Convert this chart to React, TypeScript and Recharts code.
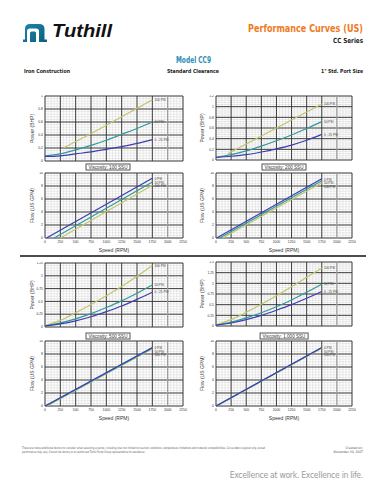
import React from 'react'
import {
  LineChart,
  Line,
  XAxis,
  YAxis,
  CartesianGrid,
  ReferenceLine,
  ReferenceDot,
} from 'recharts'

const FONT = '"Liberation Sans", Arial, sans-serif'
const NARROW = '"Liberation Sans Narrow", "DejaVu Sans Condensed", "Liberation Sans", sans-serif'

const OLIVE = '#c4c46c'
const TEAL = '#2f9a9a'
const BLUE = '#3d3db0'

// speed axis
const SPEED_TICKS = [0, 250, 500, 750, 1000, 1250, 1500, 1750, 2000, 2250]
const SPEED_MAX = 2250
const MAX_SPEED_MARK = 2000

// power curve speeds
const powerSpeeds = [0, 250, 500, 750, 1000, 1250, 1500, 1750]

// 100 SSU power (BHP)
const p100Low = [0.07, 0.08, 0.11, 0.14, 0.18, 0.22, 0.27, 0.33]
const p100Mid = [0.08, 0.11, 0.17, 0.24, 0.32, 0.41, 0.5, 0.6]
const p100HighSpeeds = [300, 500, 750, 1000, 1250, 1500, 1750]
const p100High = [0.2, 0.3, 0.42, 0.55, 0.68, 0.81, 0.94]

// 200 SSU power
const p200Low = [0.05, 0.07, 0.1, 0.15, 0.21, 0.28, 0.37, 0.48]
const p200Mid = [0.05, 0.1, 0.17, 0.26, 0.36, 0.47, 0.59, 0.72]
const p200HighSpeeds = [200, 500, 750, 1000, 1250, 1500, 1750]
const p200High = [0.12, 0.3, 0.45, 0.6, 0.75, 0.9, 1.05]

// 500 SSU power
const p500Low = [0.02, 0.06, 0.12, 0.2, 0.3, 0.41, 0.54, 0.68]
const p500Mid = [0.02, 0.08, 0.16, 0.26, 0.38, 0.51, 0.66, 0.82]
const p500High = [0.03, 0.13, 0.28, 0.44, 0.61, 0.79, 0.99, 1.2]

// 1000 SSU power
const p1000Low = [0.02, 0.07, 0.15, 0.25, 0.37, 0.5, 0.65, 0.81]
const p1000Mid = [0.02, 0.09, 0.19, 0.31, 0.45, 0.61, 0.79, 0.98]
const p1000High = [0.03, 0.15, 0.32, 0.51, 0.71, 0.92, 1.14, 1.36]

// flow (US GPM): start speed at zero flow, end at 1750 RPM
const f100Speeds0 = [25, 1750]
const f100Speeds50 = [150, 1750]
const f100Speeds100 = [250, 1750]
const f100Flow0 = [0, 9.2]
const f100Flow50 = [0, 8.6]
const f100Flow100 = [0, 8.1]

const f200Speeds0 = [10, 1750]
const f200Speeds50 = [60, 1750]
const f200Speeds100 = [110, 1750]
const f200Flow0 = [0, 9.1]
const f200Flow50 = [0, 8.8]
const f200Flow100 = [0, 8.5]

const f500Speeds0 = [0, 1750]
const f500Speeds50 = [15, 1750]
const f500Speeds100 = [30, 1750]
const f500Flow0 = [0, 9.0]
const f500Flow50 = [0, 8.9]
const f500Flow100 = [0, 8.8]

const f1000Speeds0 = [0, 1750]
const f1000Speeds50 = [5, 1750]
const f1000Speeds100 = [10, 1750]
const f1000Flow0 = [0, 9.0]
const f1000Flow50 = [0, 8.95]
const f1000Flow100 = [0, 8.9]

// y ticks
const power1Ticks = [0, 0.2, 0.4, 0.6, 0.8, 1]
const power12Ticks = [0, 0.2, 0.4, 0.6, 0.8, 1, 1.2]
const power125Ticks = [0, 0.25, 0.5, 0.75, 1, 1.25]
const power15Ticks = [0, 0.25, 0.5, 0.75, 1, 1.25, 1.5]
const flowTicks = [0, 2, 4, 6, 8, 10]

const steps = (step: number, max: number) => {
  const out: number[] = []
  for (let i = 0; i * step <= max + 1e-9; i++) out.push(+(i * step).toFixed(4))
  return out
}

const SPEED_MINOR = steps(50, SPEED_MAX)
const SPEED_GRID = SPEED_TICKS.filter((s) => s !== MAX_SPEED_MARK)

type Series = { key: string; color: string; speeds: number[]; values: number[]; curve: 'monotone' | 'linear' }
type EndLabel = { text: string; rpm: number; value: number; dy: number }

const toPoints = (speeds: number[], values: number[]) =>
  speeds.map((rpm, i) => ({ rpm, v: values[i] }))

const powerSeries = (low: number[], mid: number[], high: number[], highSpeeds = powerSpeeds): Series[] => [
  { key: 'p100', color: OLIVE, speeds: highSpeeds, values: high, curve: 'monotone' },
  { key: 'p50', color: TEAL, speeds: powerSpeeds, values: mid, curve: 'monotone' },
  { key: 'p25', color: BLUE, speeds: powerSpeeds, values: low, curve: 'monotone' },
]

const powerLabels = (low: number[], mid: number[], high: number[]): EndLabel[] => [
  { text: '100 PSI', rpm: 1750, value: high[high.length - 1], dy: 0 },
  { text: '50 PSI', rpm: 1750, value: mid[mid.length - 1], dy: 0 },
  { text: '0 - 25 PSI', rpm: 1750, value: low[low.length - 1], dy: 0 },
]

const flowSeries = (s0: number[], f0: number[], s50: number[], f50: number[], s100: number[], f100: number[]): Series[] => [
  { key: 'f100', color: OLIVE, speeds: s100, values: f100, curve: 'linear' },
  { key: 'f50', color: TEAL, speeds: s50, values: f50, curve: 'linear' },
  { key: 'f0', color: BLUE, speeds: s0, values: f0, curve: 'linear' },
]

const flowLabels = (top: number[]): EndLabel[] => [
  { text: '0 PSI', rpm: 1750, value: top[top.length - 1], dy: 0.8 },
  { text: '50 PSI', rpm: 1750, value: top[top.length - 1], dy: 4.2 },
  { text: '100 PSI', rpm: 1750, value: top[top.length - 1], dy: 7.6 },
]

const NoTick = () => <g />

interface PerfChartProps {
  left: number
  top: number
  plotW: number
  plotH: number
  yw: number
  yMax: number
  yTicks: number[]
  yStep: number
  yLabel: string
  labelOffset: number
  series: Series[]
  labels: EndLabel[]
  speedAxis?: boolean
}

function PerfChart({
  left, top, plotW, plotH, yw, yMax, yTicks, yStep, yLabel, labelOffset, series, labels, speedAxis,
}: PerfChartProps) {
  const xh = speedAxis ? 15 : 2
  return (
    <div style={{ position: 'absolute', left, top: top - 1 }}>
      <LineChart
        width={yw + plotW + 8}
        height={plotH + xh + 1}
        margin={{ top: 1, right: 8, left: 0, bottom: 0 }}
      >
        <CartesianGrid
          verticalValues={SPEED_MINOR}
          horizontalValues={steps(yStep, yMax)}
          stroke="#c6c6c6"
          strokeWidth={0.35}
        />
        <ReferenceLine x={MAX_SPEED_MARK} stroke="#9c9c9c" strokeWidth={1.3} />
        <CartesianGrid
          verticalValues={SPEED_GRID}
          horizontalValues={yTicks}
          stroke="#2a2a2a"
          strokeWidth={0.9}
        />
        <XAxis
          type="number"
          dataKey="rpm"
          domain={[0, SPEED_MAX]}
          ticks={SPEED_TICKS}
          interval={0}
          tickSize={0}
          tickMargin={3}
          axisLine={false}
          height={xh}
          tick={speedAxis ? { fontSize: 3.4, fill: '#333', fontFamily: FONT } : NoTick}
          label={
            speedAxis
              ? { value: 'Speed (RPM)', position: 'insideBottom', offset: 1, fontSize: 5, fill: '#333', fontFamily: FONT }
              : undefined
          }
        />
        <YAxis
          type="number"
          domain={[0, yMax]}
          ticks={yTicks}
          interval={0}
          width={yw}
          tickSize={0}
          tickMargin={2}
          axisLine={false}
          tick={{ fontSize: 3.4, fill: '#333', fontFamily: FONT }}
          label={{
            value: yLabel,
            angle: -90,
            position: 'insideLeft',
            offset: labelOffset,
            fontSize: 5,
            fill: '#333',
            fontFamily: FONT,
            style: { textAnchor: 'middle' },
          }}
        />
        {series.map((s) => (
          <Line
            key={s.key}
            data={toPoints(s.speeds, s.values)}
            dataKey="v"
            type={s.curve}
            stroke={s.color}
            strokeWidth={1.2}
            dot={false}
            isAnimationActive={false}
          />
        ))}
        {labels.map((l) => (
          <ReferenceDot
            key={l.text}
            x={l.rpm}
            y={l.value}
            r={0.1}
            fill="none"
            stroke="none"
            label={{ value: l.text, position: 'right', offset: 2, fontSize: 3.2, fill: '#444', fontFamily: FONT, dy: l.dy }}
          />
        ))}
      </LineChart>
    </div>
  )
}

function ViscosityBox({ cx, cy, text }: { cx: number; cy: number; text: string }) {
  return (
    <div
      style={{
        position: 'absolute',
        left: cx,
        top: cy,
        transform: 'translate(-50%, -50%)',
        border: '0.7px solid #555',
        fontSize: 4.6,
        lineHeight: '5px',
        padding: '0 2px',
        whiteSpace: 'nowrap',
        color: '#333',
        fontFamily: FONT,
        background: '#fff',
      }}
    >
      {text}
    </div>
  )
}

const LEFT = { left: 20, plotW: 138, yw: 25, labelOffset: 12 }
const RIGHT = { left: 195, plotW: 136, yw: 21, labelOffset: 7 }

export default function App() {
  return (
    <div style={{ position: 'fixed', left: 0, top: 0, width: 386, height: 500, background: '#fff', fontFamily: FONT, overflow: 'hidden' }}>
      <svg width={386} height={500} style={{ position: 'absolute', left: 0, top: 0 }}>
        <defs>
          <linearGradient id="logoGrad" x1="0" y1="0" x2="1" y2="1">
            <stop offset="0" stopColor="#1b86a8" />
            <stop offset="1" stopColor="#0d5f80" />
          </linearGradient>
        </defs>
        <path
          d="M23,42 L27,42 L27,31 Q27,28.5 30,28.5 L36,28.5 Q39,28.5 39,31 L39,42 L47,42 L47,39.5 L44.5,39.5 L44.5,29 Q44.5,24 39,24 L30,24 Q25,24 25,29 L25,39.5 L23,39.5 Z M30,42 L36,42 L36,33 Q36,31.5 34.5,31.5 L31.5,31.5 Q30,31.5 30,33 Z"
          fill="url(#logoGrad)"
        />
        <text x={52} y={36.7} fontSize={18.5} fontWeight={700} fontStyle="italic" fill="#111" fontFamily={FONT} textLength={60} lengthAdjust="spacingAndGlyphs">
          Tuthill
        </text>
        <text x={363} y={32.3} textAnchor="end" fontSize={10.5} fontWeight={600} fill="#f07a24" fontFamily={NARROW} textLength={115} lengthAdjust="spacingAndGlyphs">
          Performance Curves (US)
        </text>
        <text x={363} y={42.5} textAnchor="end" fontSize={7} fontWeight={700} fill="#222" fontFamily={NARROW} textLength={30} lengthAdjust="spacingAndGlyphs">
          CC Series
        </text>
        <text x={193.5} y={63.3} textAnchor="middle" fontSize={8} fontWeight={600} fill="#2a8db3" fontFamily={NARROW} textLength={35} lengthAdjust="spacingAndGlyphs">
          Model CC9
        </text>
        <text x={24} y={73.2} fontSize={5.5} fontWeight={700} fill="#222" fontFamily={NARROW} textLength={46} lengthAdjust="spacingAndGlyphs">
          Iron Construction
        </text>
        <text x={193} y={73.2} textAnchor="middle" fontSize={5.5} fontWeight={700} fill="#222" fontFamily={NARROW} textLength={52} lengthAdjust="spacingAndGlyphs">
          Standard Clearance
        </text>
        <text x={363} y={73.2} textAnchor="end" fontSize={5.5} fontWeight={700} fill="#222" fontFamily={NARROW} textLength={42} lengthAdjust="spacingAndGlyphs">
          1" Std. Port Size
        </text>
        <line x1={20} x2={366} y1={256} y2={256} stroke="#111" strokeWidth={1.4} />
        <text x={22} y={448.8} fontSize={3.3} fontStyle="italic" fill="#555" fontFamily={NARROW} textLength={243} lengthAdjust="spacingAndGlyphs">
          There are many additional factors to consider when selecting a pump, including (but not limited to) suction conditions, temperature limitations and material compatibilities. Curve data is typical only, actual
        </text>
        <text x={22} y={452.6} fontSize={3.3} fontStyle="italic" fill="#555" fontFamily={NARROW} textLength={123} lengthAdjust="spacingAndGlyphs">
          performance may vary. Consult the factory or an authorized Tuthill Pump Group representative for assistance.
        </text>
        <text x={363} y={448.8} textAnchor="end" fontSize={3.3} fontStyle="italic" fill="#555" fontFamily={NARROW}>
          Created on:
        </text>
        <text x={363} y={452.6} textAnchor="end" fontSize={3.3} fontStyle="italic" fill="#555" fontFamily={NARROW}>
          November 30, 2007
        </text>
        <text x={363} y={478} textAnchor="end" fontSize={8.6} fontWeight={300} letterSpacing={-0.3} fill="#9a9a9a" fontFamily={NARROW}>
          Excellence at work.  Excellence in life.
        </text>
      </svg>

      <PerfChart {...LEFT} top={96} plotH={65} yMax={1} yTicks={power1Ticks} yStep={0.04} yLabel="Power (BHP)"
        series={powerSeries(p100Low, p100Mid, p100High, p100HighSpeeds)} labels={powerLabels(p100Low, p100Mid, p100High)} />
      <ViscosityBox cx={108} cy={166.8} text="Viscosity: 100 SSU" />
      <PerfChart {...LEFT} top={173} plotH={65} yMax={10} yTicks={flowTicks} yStep={0.4} yLabel="Flow (US GPM)" speedAxis
        series={flowSeries(f100Speeds0, f100Flow0, f100Speeds50, f100Flow50, f100Speeds100, f100Flow100)} labels={flowLabels(f100Flow0)} />

      <PerfChart {...RIGHT} top={96} plotH={64} yMax={1.2} yTicks={power12Ticks} yStep={0.04} yLabel="Power (BHP)"
        series={powerSeries(p200Low, p200Mid, p200High, p200HighSpeeds)} labels={powerLabels(p200Low, p200Mid, p200High)} />
      <ViscosityBox cx={284} cy={166.8} text="Viscosity: 200 SSU" />
      <PerfChart {...RIGHT} top={173} plotH={65} yMax={10} yTicks={flowTicks} yStep={0.4} yLabel="Flow (US GPM)" speedAxis
        series={flowSeries(f200Speeds0, f200Flow0, f200Speeds50, f200Flow50, f200Speeds100, f200Flow100)} labels={flowLabels(f200Flow0)} />

      <PerfChart {...LEFT} top={262.5} plotH={64} yMax={1.25} yTicks={power125Ticks} yStep={0.05} yLabel="Power (BHP)"
        series={powerSeries(p500Low, p500Mid, p500High)} labels={powerLabels(p500Low, p500Mid, p500High)} />
      <ViscosityBox cx={108} cy={335.5} text="Viscosity: 500 SSU" />
      <PerfChart {...LEFT} top={341} plotH={65} yMax={10} yTicks={flowTicks} yStep={0.4} yLabel="Flow (US GPM)" speedAxis
        series={flowSeries(f500Speeds0, f500Flow0, f500Speeds50, f500Flow50, f500Speeds100, f500Flow100)} labels={flowLabels(f500Flow0)} />

      <PerfChart {...RIGHT} top={262} plotH={64} yMax={1.5} yTicks={power15Ticks} yStep={0.05} yLabel="Power (BHP)"
        series={powerSeries(p1000Low, p1000Mid, p1000High)} labels={powerLabels(p1000Low, p1000Mid, p1000High)} />
      <ViscosityBox cx={284} cy={335.5} text="Viscosity: 1,000 SSU" />
      <PerfChart {...RIGHT} top={341} plotH={65} yMax={10} yTicks={flowTicks} yStep={0.4} yLabel="Flow (US GPM)" speedAxis
        series={flowSeries(f1000Speeds0, f1000Flow0, f1000Speeds50, f1000Flow50, f1000Speeds100, f1000Flow100)} labels={flowLabels(f1000Flow0)} />
    </div>
  )
}
